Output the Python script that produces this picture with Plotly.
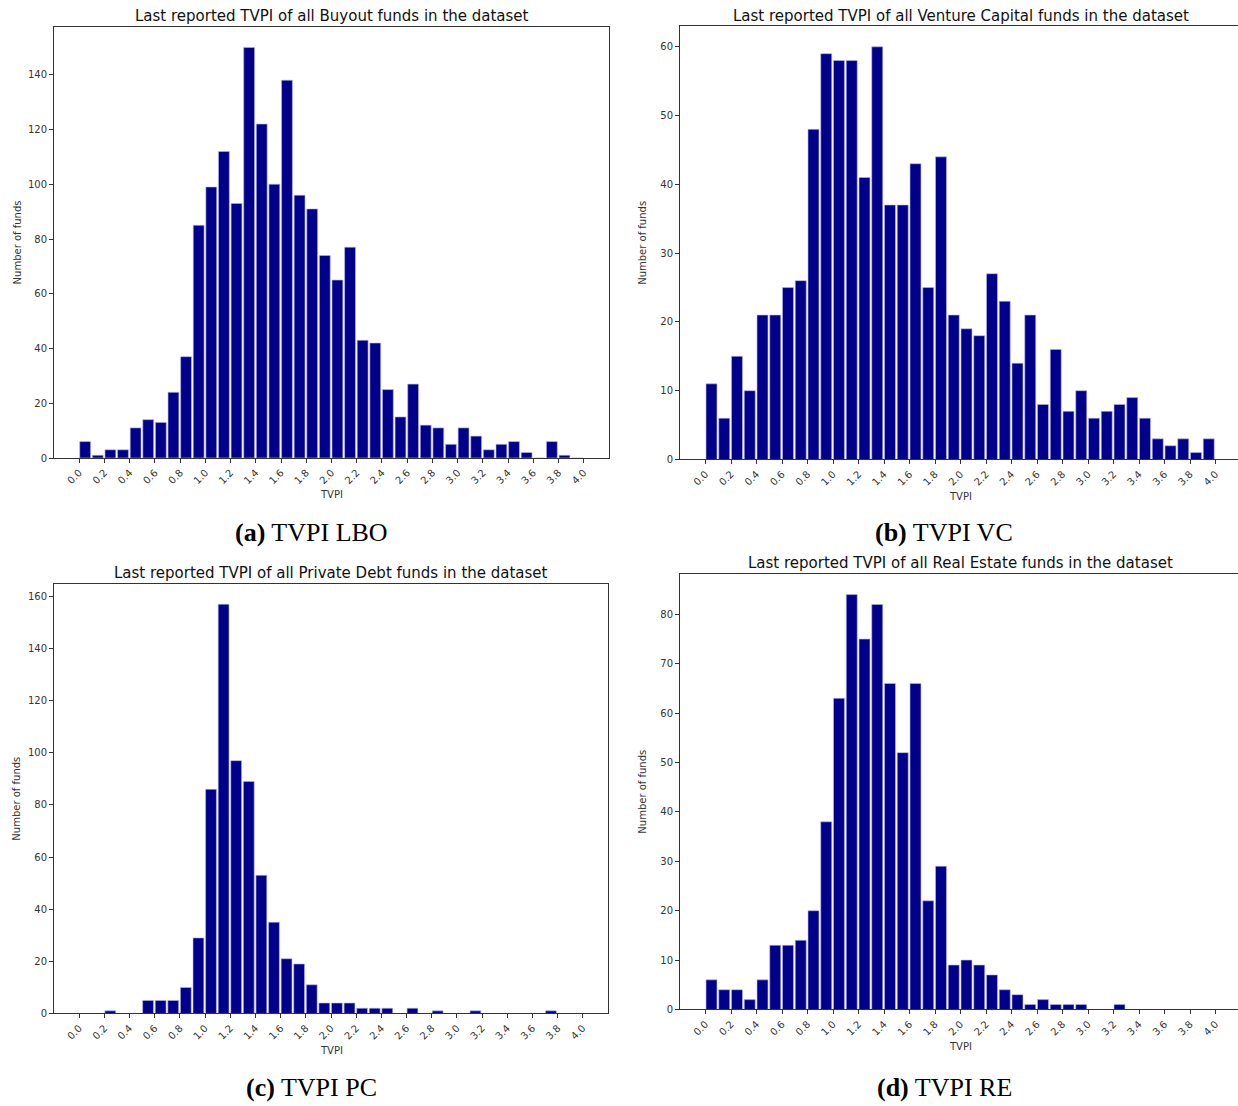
import plotly.graph_objects as go

# ---------------- data ----------------
tvpi_bins = [round(i * 0.1, 1) for i in range(40)]  # left edge of each 0.1-wide TVPI bin
tick_vals = [round(i * 0.2, 1) for i in range(21)]
tick_text = [f"{v:.1f}" for v in tick_vals]

buyout_counts = [6, 1, 3, 3, 11, 14, 13, 24, 37, 85,
                 99, 112, 93, 150, 122, 100, 138, 96, 91, 74,
                 65, 77, 43, 42, 25, 15, 27, 12, 11, 5,
                 11, 8, 3, 5, 6, 2, 0, 6, 1, 0]
venture_counts = [11, 6, 15, 10, 21, 21, 25, 26, 48, 59,
                  58, 58, 41, 60, 37, 37, 43, 25, 44, 21,
                  19, 18, 27, 23, 14, 21, 8, 16, 7, 10,
                  6, 7, 8, 9, 6, 3, 2, 3, 1, 3]
debt_counts = [0, 0, 1, 0, 0, 5, 5, 5, 10, 29,
               86, 157, 97, 89, 53, 35, 21, 19, 11, 4,
               4, 4, 2, 2, 2, 0, 2, 0, 1, 0,
               0, 1, 0, 0, 0, 0, 0, 1, 0, 0]
realestate_counts = [6, 4, 4, 2, 6, 13, 13, 14, 20, 38,
                     63, 84, 75, 82, 66, 52, 66, 22, 29, 9,
                     10, 9, 7, 4, 3, 1, 2, 1, 1, 1,
                     0, 0, 1, 0, 0, 0, 0, 0, 0, 0]

titles = ["Last reported TVPI of all Buyout funds in the dataset",
          "Last reported TVPI of all Venture Capital funds in the dataset",
          "Last reported TVPI of all Private Debt funds in the dataset",
          "Last reported TVPI of all Real Estate funds in the dataset"]
captions = ["<b>(a)</b> TVPI LBO", "<b>(b)</b> TVPI VC",
            "<b>(c)</b> TVPI PC", "<b>(d)</b> TVPI RE"]
y_dticks = [20, 10, 20, 10]

# ---------------- layout geometry (pixels) ----------------
W, H = 1238, 1106
PX_PER_UNIT_RIGHT = 127.5
panels = [
    dict(l=54, r=609, t=27, b=460.5, ty=16, xl=497, cy=535),
    dict(l=680, r=1238, t=26.3, b=462, ty=16, xl=499, cy=535),
    dict(l=54, r=608, t=587, b=1019, ty=576, xl=1056, cy=1093),
    dict(l=680, r=1238, t=577, b=1015, ty=566, xl=1052, cy=1093),
]
series = [buyout_counts, venture_counts, debt_counts, realestate_counts]

fig = go.Figure()
layout = dict(
    width=W, height=H, margin=dict(l=0, r=0, t=0, b=0),
    paper_bgcolor="white", plot_bgcolor="white", showlegend=False,
    font=dict(family="DejaVu Sans", color="#222"),
)
annotations = []

for i, (p, counts) in enumerate(zip(panels, series)):
    n = i + 1
    xa = "x" if n == 1 else f"x{n}"
    ya = "y" if n == 1 else f"y{n}"
    right_col = (i % 2 == 1)
    xmax = (-0.2 + (p["r"] - p["l"]) / PX_PER_UNIT_RIGHT) if right_col else 4.2
    fig.add_trace(go.Bar(
        x=tvpi_bins, y=counts, xaxis=xa, yaxis=ya,
        offset=0.004, width=0.086,
        marker=dict(color="#00008B", line=dict(color="#b8b8e8", width=0.6)),
    ))
    layout["xaxis" if n == 1 else f"xaxis{n}"] = dict(
        domain=[p["l"] / W, p["r"] / W], anchor=ya,
        range=[-0.2, xmax], tickmode="array", tickvals=tick_vals, ticktext=tick_text,
        tickangle=-45, tickfont=dict(size=10, color="#333"),
        showline=True, linecolor="#333", linewidth=1, mirror=True,
        ticks="outside", ticklen=4, tickcolor="#333", showgrid=False, zeroline=False,
    )
    layout["yaxis" if n == 1 else f"yaxis{n}"] = dict(
        domain=[1 - p["b"] / H, 1 - p["t"] / H], anchor=xa,
        range=[0, max(counts) * 1.05], dtick=y_dticks[i], tick0=0,
        tickfont=dict(size=10, color="#333"),
        showline=True, linecolor="#333", linewidth=1, mirror=not right_col,
        ticks="outside", ticklen=4, tickcolor="#333", showgrid=False, zeroline=False,
    )
    cx_plot = p["l"] + 4.4 * PX_PER_UNIT_RIGHT / 2 if right_col else (p["l"] + p["r"]) / 2
    annotations.append(dict(
        text=titles[i], x=cx_plot / W, y=1 - p["ty"] / H, xref="paper", yref="paper",
        xanchor="center", yanchor="middle", showarrow=False,
        font=dict(family="DejaVu Sans", size=15, color="#111"),
    ))
    annotations.append(dict(
        text="TVPI", x=cx_plot / W, y=1 - p["xl"] / H, xref="paper", yref="paper",
        xanchor="center", yanchor="middle", showarrow=False,
        font=dict(family="DejaVu Sans", size=10, color="#333"),
    ))
    annotations.append(dict(
        text="Number of funds", textangle=-90,
        x=(p["l"] - 37) / W, y=1 - (p["t"] + p["b"]) / 2 / H, xref="paper", yref="paper",
        xanchor="center", yanchor="middle", showarrow=False,
        font=dict(family="DejaVu Sans", size=10, color="#333"),
    ))
    annotations.append(dict(
        text=captions[i], x=(311 if not right_col else 944) / W, y=1 - p["cy"] / H,
        xref="paper", yref="paper", xanchor="center", yanchor="middle", showarrow=False,
        font=dict(family="Liberation Serif", size=26, color="black"),
    ))

layout["annotations"] = annotations
fig.update_layout(**layout)
fig.write_html("out.html", config={"displayModeBar": False},
               post_script="document.body.style.margin='0';document.body.style.overflow='hidden';")
